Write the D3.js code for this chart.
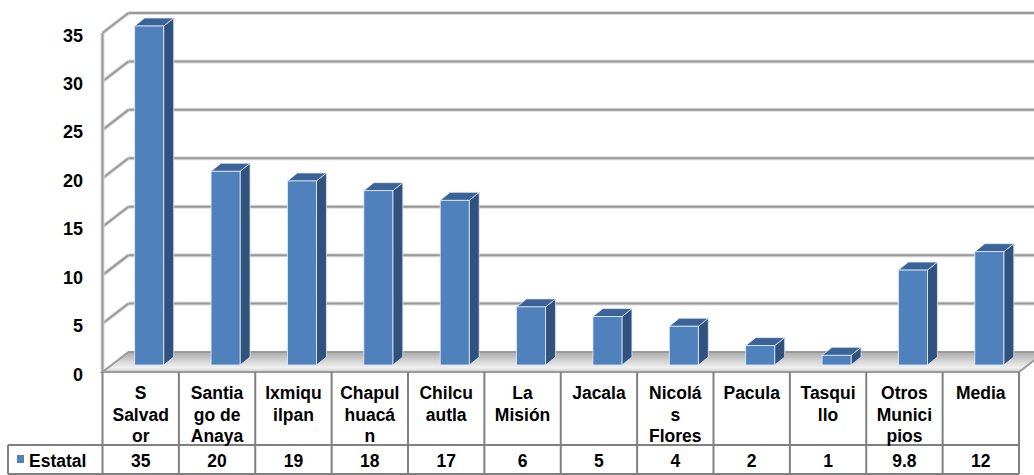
<!DOCTYPE html>
<html><head><meta charset="utf-8">
<script src="https://cdn.jsdelivr.net/npm/d3@7"></script>
<style>body{margin:0;background:#fff}svg{display:block}text{font-family:"Liberation Sans",Arial,sans-serif;font-weight:bold;fill:#000}</style>
</head><body>
<svg id="c" width="1034" height="475"></svg>
<script>
const categories = ["S Salvador","Santiago de Anaya","Ixmiquilpan","Chapulhuacán","Chilcuautla","La Misión","Jacala","Nicolás Flores","Pacula","Tasquillo","Otros Municipios","Media"];
const categoryLines = [["S","Salvad","or"],["Santia","go de","Anaya"],["Ixmiqu","ilpan"],["Chapul","huacá","n"],["Chilcu","autla"],["La","Misión"],["Jacala"],["Nicolá","s","Flores"],["Pacula"],["Tasqui","llo"],["Otros","Munici","pios"],["Media"]];
const values = [35,20,19,18,17,6,5,4,2,1,9.8,11.7];
const valueLabels = ["35","20","19","18","17","6","5","4","2","1","9.8","12"];
const yTicks = [0,5,10,15,20,25,30,35];
const seriesName = "Estatal";

const svg = d3.select("#c");
const left = 102.5, right = 1019, y0 = 372, yTop = 33;
const DX = 26, DY = -20;       // wall depth
const bdx = 8.5, bdy = -7;     // bar position in depth
const sdx = 10, sdy = -8;      // bar thickness
const x = d3.scaleBand().domain(categories).range([left, right]).padding(0);
const y = d3.scaleLinear().domain([0,35]).range([y0, yTop]);
const bw = x.bandwidth(), barW = 29;

const defs = svg.append("defs");
const fg = defs.append("linearGradient").attr("id","floor").attr("x1",0).attr("y1",0).attr("x2",0).attr("y2",1);
fg.append("stop").attr("offset","0%").attr("stop-color","#a9a9a9");
fg.append("stop").attr("offset","45%").attr("stop-color","#d4d4d4");
fg.append("stop").attr("offset","80%").attr("stop-color","#f2f2f2");
fg.append("stop").attr("offset","100%").attr("stop-color","#c8c8c8");

// back wall gridlines
const grid = svg.append("g");
yTicks.filter(t=>t>0).forEach(t=>{
  const yy = y(t)+DY;
  grid.append("line").attr("x1",left+DX).attr("x2",1034).attr("y1",yy).attr("y2",yy).attr("stroke","#dcdcdc").attr("stroke-width",4);
  grid.append("line").attr("x1",left+DX).attr("x2",1034).attr("y1",yy).attr("y2",yy).attr("stroke","#999").attr("stroke-width",2);
  grid.append("line").attr("x1",left).attr("x2",left+DX).attr("y1",y(t)).attr("y2",yy).attr("stroke","#dcdcdc").attr("stroke-width",4);
  grid.append("line").attr("x1",left).attr("x2",left+DX).attr("y1",y(t)).attr("y2",yy).attr("stroke","#999").attr("stroke-width",2);
});
// left wall front edge
grid.append("line").attr("x1",left).attr("x2",left).attr("y1",y(35)).attr("y2",y0).attr("stroke","#dcdcdc").attr("stroke-width",4);
grid.append("line").attr("x1",left).attr("x2",left).attr("y1",y(35)).attr("y2",y0).attr("stroke","#999").attr("stroke-width",2);

// floor
svg.append("polygon")
  .attr("points",[[left,y0],[right,y0],[right+DX,y0+DY],[left+DX,y0+DY]].map(p=>p.join(",")).join(" "))
  .attr("fill","url(#floor)").attr("stroke","#9a9a9a").attr("stroke-width",2);

// bars
const bars = svg.append("g");
categories.forEach((c,i)=>{
  const x0 = x(c) + (bw-barW)/2 + bdx, x1 = x0 + barW;
  const yb = y(0)+bdy, yt = y(values[i])+bdy;
  bars.append("polygon").attr("points",[[x1,yt],[x1+sdx,yt+sdy],[x1+sdx,yb+sdy],[x1,yb]].map(p=>p.join(",")).join(" "))
    .attr("fill","#30527f").attr("stroke","#dfe6f0").attr("stroke-width",0.8);
  bars.append("polygon").attr("points",[[x0,yt],[x1,yt],[x1+sdx,yt+sdy],[x0+sdx,yt+sdy]].map(p=>p.join(",")).join(" "))
    .attr("fill","#3b6397").attr("stroke","#dfe6f0").attr("stroke-width",0.8);
  bars.append("rect").attr("x",x0).attr("y",yt).attr("width",barW).attr("height",yb-yt)
    .attr("fill","#4f81bd").attr("stroke","#e6edf5").attr("stroke-width",0.8);
});

// y tick labels
svg.append("g").selectAll("text").data(yTicks).join("text")
  .attr("x",83).attr("y",d=>y(d)+8.5).attr("text-anchor","end").attr("font-size",18).text(d=>d);

// table
const tb = svg.append("g");
const lineC = "#808080";
const rowY = 445, botY = 474;
tb.append("line").attr("x1",left).attr("x2",right).attr("y1",y0).attr("y2",y0).attr("stroke","#9a9a9a").attr("stroke-width",2);
categories.forEach(c=>{
  tb.append("line").attr("x1",x(c)).attr("x2",x(c)).attr("y1",y0).attr("y2",botY).attr("stroke",lineC).attr("stroke-width",2);
});
tb.append("line").attr("x1",right).attr("x2",right).attr("y1",y0).attr("y2",botY).attr("stroke",lineC).attr("stroke-width",2);
tb.append("line").attr("x1",8).attr("x2",right).attr("y1",rowY).attr("y2",rowY).attr("stroke",lineC).attr("stroke-width",2);
tb.append("line").attr("x1",8).attr("x2",right).attr("y1",botY).attr("y2",botY).attr("stroke",lineC).attr("stroke-width",2);
tb.append("line").attr("x1",8).attr("x2",8).attr("y1",rowY).attr("y2",botY).attr("stroke",lineC).attr("stroke-width",2);

categories.forEach((c,i)=>{
  const cx = x(c)+bw/2;
  categoryLines[i].forEach((ln,j)=>{
    tb.append("text").attr("x",cx).attr("y",399+j*21.5).attr("text-anchor","middle").attr("font-size",17.5).text(ln);
  });
  tb.append("text").attr("x",cx).attr("y",467).attr("text-anchor","middle").attr("font-size",17.5).text(valueLabels[i]);
});
tb.append("rect").attr("x",17).attr("y",455).attr("width",7).attr("height",8).attr("fill","#4f81bd");
tb.append("text").attr("x",29).attr("y",467).attr("font-size",17.5).text(seriesName);
</script>
</body></html>
